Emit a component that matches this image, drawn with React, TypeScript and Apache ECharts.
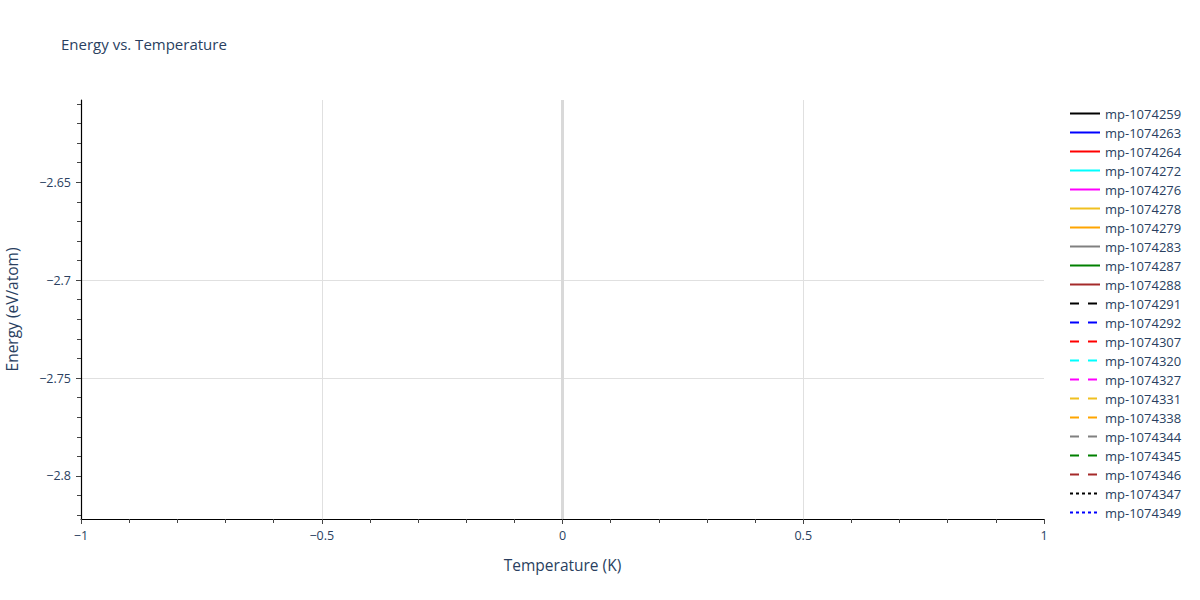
import React, { useRef, useEffect } from 'react'
import * as echarts from 'echarts'

// 图例名称（数据为空，图中无可见曲线）
const seriesNames = [
  'mp-1074259', 'mp-1074263', 'mp-1074264', 'mp-1074272', 'mp-1074276',
  'mp-1074278', 'mp-1074279', 'mp-1074283', 'mp-1074287', 'mp-1074288',
  'mp-1074291', 'mp-1074292', 'mp-1074307', 'mp-1074320', 'mp-1074327',
  'mp-1074331', 'mp-1074338', 'mp-1074344', 'mp-1074345', 'mp-1074346',
  'mp-1074347', 'mp-1074349',
]
const seriesColors = [
  '#000000', '#0000ff', '#ff0000', '#00ffff', '#ff00ff',
  '#f0c020', '#ffa500', '#808080', '#008000', '#a52a2a',
  '#000000', '#0000ff', '#ff0000', '#00ffff', '#ff00ff',
  '#f0c020', '#ffa500', '#808080', '#008000', '#a52a2a',
  '#000000', '#0000ff',
]
const seriesDash = [
  'solid', 'solid', 'solid', 'solid', 'solid', 'solid', 'solid', 'solid', 'solid', 'solid',
  'dash', 'dash', 'dash', 'dash', 'dash', 'dash', 'dash', 'dash', 'dash', 'dash',
  'dot', 'dot',
]
const seriesValues: [number, number][][] = seriesNames.map(() => [])

const xTicks = [-1, -0.5, 0, 0.5, 1]
const yTicks = [-2.8, -2.75, -2.7, -2.65]
const xRange = [-1, 1]
const yRange = [-2.822, -2.608]

const textColor = '#2a3f5f'
const fontFamily = '"Open Sans", Verdana, Arial, sans-serif'
const fmt = (v: number) => String(v).replace('-', '\u2212')

const dashType = (d: string) => (d === 'dash' ? [9, 9] : d === 'dot' ? [3, 3] : 'solid')

const App: React.FC = () => {
  const chartRef = useRef<HTMLDivElement>(null)

  useEffect(() => {
    if (!chartRef.current) return
    const chart = echarts.init(chartRef.current, undefined, { renderer: 'svg' })

    const series: any[] = seriesNames.map((name, i) => ({
      name,
      type: 'line',
      data: seriesValues[i],
      symbol: 'none',
      color: seriesColors[i],
      lineStyle: { width: 2, type: dashType(seriesDash[i]) },
    }))

    // 零线
    series.push({
      name: 'zeroline',
      type: 'line',
      data: [],
      silent: true,
      markLine: {
        silent: true,
        symbol: 'none',
        label: { show: false },
        lineStyle: { color: '#d9d9d9', width: 3, type: 'solid' },
        data: [{ xAxis: 0 }],
      },
    })

    chart.setOption({
      animation: false,
      backgroundColor: '#ffffff',
      textStyle: { fontFamily },
      title: {
        text: 'Energy vs. Temperature',
        left: 56,
        top: 31,
        textStyle: { color: textColor, fontSize: 15, fontWeight: 'normal', fontFamily },
      },
      legend: {
        data: seriesNames,
        orient: 'vertical',
        left: 1064,
        top: 102,
        itemWidth: 30,
        itemHeight: 14,
        itemGap: 6,
        itemStyle: { opacity: 0 },
        textStyle: { color: textColor, fontSize: 13, fontFamily },
      },
      grid: { left: 81, right: 156, top: 100, bottom: 81, containLabel: false, outerBoundsMode: 'none' },
      xAxis: {
        type: 'value',
        min: xRange[0],
        max: xRange[1],
        interval: 0.5,
        name: 'Temperature (K)',
        nameLocation: 'middle',
        nameGap: 38,
        nameTextStyle: { color: textColor, fontSize: 15.5, fontFamily },
        axisLine: { show: true, onZero: false, lineStyle: { color: '#000', width: 1.2 } },
        axisTick: { show: true, inside: false, length: 5, customValues: xTicks, lineStyle: { color: '#444' } },
        minorTick: { show: true, splitNumber: 5, length: 4, lineStyle: { color: '#444' } },
        axisLabel: { color: textColor, fontSize: 12.5, margin: 10, formatter: fmt, customValues: xTicks },
        splitLine: { show: true, showMinLine: false, showMaxLine: false, lineStyle: { color: '#e0e0e0', width: 1 } },
      },
      yAxis: {
        type: 'value',
        min: yRange[0],
        max: yRange[1],
        splitNumber: 5,
        name: 'Energy (eV/atom)',
        nameLocation: 'middle',
        nameGap: 61,
        nameTextStyle: { color: textColor, fontSize: 15.5, fontFamily },
        axisLine: { show: true, onZero: false, lineStyle: { color: '#000', width: 1.2 } },
        axisTick: { show: true, inside: false, length: 5, customValues: yTicks, lineStyle: { color: '#444' } },
        minorTick: { show: true, splitNumber: 5, length: 4, lineStyle: { color: '#444' } },
        axisLabel: { color: textColor, fontSize: 12.5, margin: 10, formatter: fmt, customValues: yTicks },
        splitLine: { show: true, showMinLine: false, showMaxLine: false, lineStyle: { color: '#e0e0e0', width: 1 } },
      },
      series,
    })

    return () => {
      chart.dispose()
    }
  }, [])

  return <div ref={chartRef} style={{ position: 'absolute', left: 0, top: 0, width: 1200, height: 600 }} />
}

export default App
